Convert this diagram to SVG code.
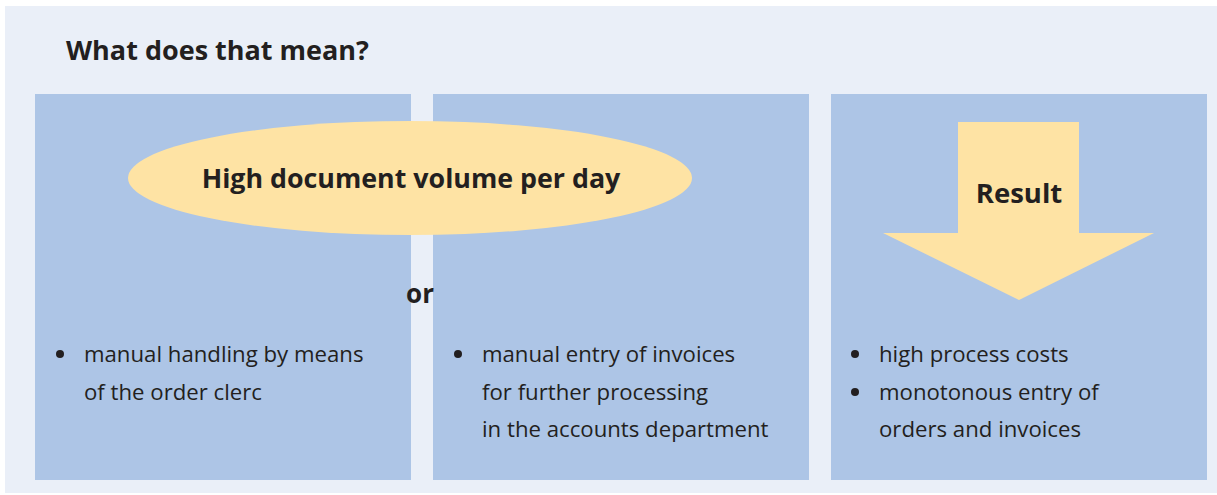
<svg xmlns="http://www.w3.org/2000/svg" width="1217" height="495" viewBox="0 0 1217 495">
<style>
.bg{fill:#eaeff8}
.box{fill:#adc5e6}
.hl{fill:#fee3a4}
.h{font-family:"Open Sans","Noto Sans",sans-serif;font-weight:bold;fill:#231f20}
.t{font-family:"Open Sans","Noto Sans",sans-serif;font-size:22.2px;fill:#231f20}
.dot{fill:#231f20}
</style>
<rect width="1217" height="495" fill="#ffffff"/>
<rect class="bg" x="5" y="6" width="1212" height="487"/>
<text class="h" x="66" y="60" font-size="27">What does that mean?</text>
<g id="box1">
<rect class="box" x="35" y="94" width="376" height="386"/>
<circle class="dot" cx="60" cy="354" r="4"/>
<text class="t" x="84" y="362">manual handling by means</text>
<text class="t" x="84" y="400">of the order clerc</text>
</g>
<g id="box2">
<rect class="box" x="433" y="94" width="376" height="386"/>
<circle class="dot" cx="458" cy="354" r="4"/>
<text class="t" x="482" y="362">manual entry of invoices</text>
<text class="t" x="482" y="400">for further processing</text>
<text class="t" x="482" y="437">in the accounts department</text>
</g>
<g id="box3">
<rect class="box" x="831" y="94" width="376" height="386"/>
<circle class="dot" cx="855" cy="354" r="4"/>
<text class="t" x="879" y="362">high process costs</text>
<circle class="dot" cx="855" cy="392" r="4"/>
<text class="t" x="879" y="400">monotonous entry of</text>
<text class="t" x="879" y="437">orders and invoices</text>
</g>
<g id="volume">
<ellipse class="hl" cx="410" cy="178" rx="282" ry="57"/>
<text class="h" x="411" y="188" font-size="26.8" text-anchor="middle">High document volume per day</text>
</g>
<g id="or">
<text class="h" x="420" y="303" font-size="26" text-anchor="middle">or</text>
</g>
<g id="result">
<polygon class="hl" points="958,122 1079,122 1079,233 1154,233 1019,300 883,233 958,233"/>
<text class="h" x="1019" y="203" font-size="27.5" text-anchor="middle">Result</text>
</g>
<g id="connectors"></g>
</svg>
